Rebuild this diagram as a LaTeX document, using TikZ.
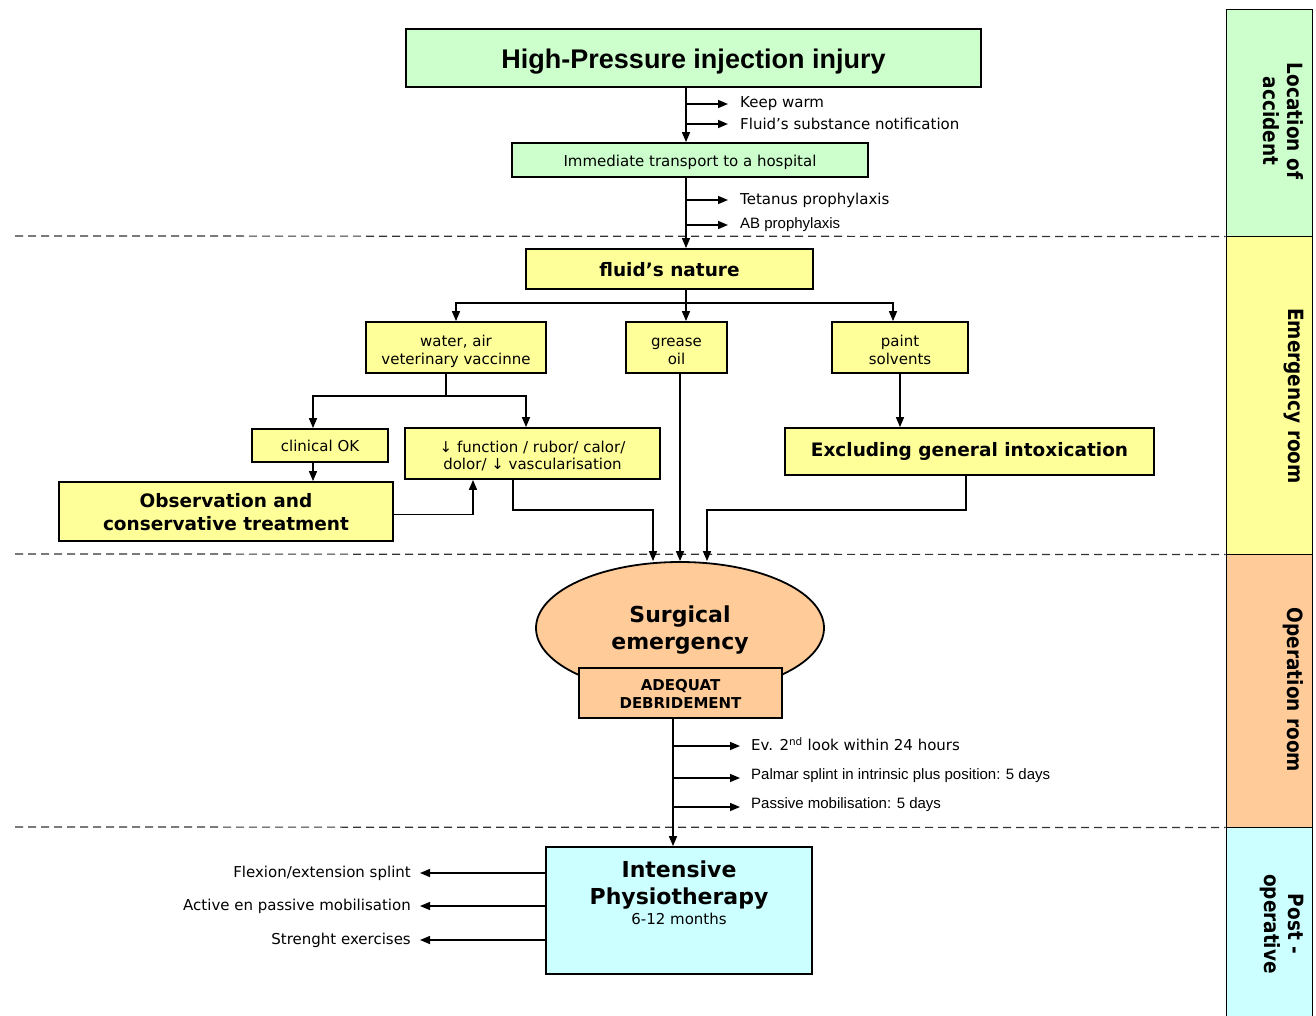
\documentclass[tikz,border=0pt]{standalone}
\usepackage{fontspec}
\setmainfont{DejaVu Sans}
\newfontfamily\arialfont{Liberation Sans}
\newfontfamily\bandfont{DejaVu Sans}[FakeStretch=0.88]
\usetikzlibrary{arrows.meta,shapes.geometric}
\definecolor{cgreen}{HTML}{CCFFCC}
\definecolor{cyellow}{HTML}{FFFF99}
\definecolor{corange}{HTML}{FFCC99}
\definecolor{ccyan}{HTML}{CCFFFF}
\definecolor{dashgray}{HTML}{333333}
% text block lowered by #1 inside its node
\newcommand\boxtxt[2]{\raisebox{-#1}[\height][\depth]{\begin{tabular}{@{}c@{}}#2\end{tabular}}}
\begin{document}
\begin{tikzpicture}[x=1pt,y=-1pt,
  box/.style={draw, line width=1.8pt, align=center, inner sep=0pt},
  ybox/.style={box, fill=cyellow},
  reg/.style={font=\fontsize{15}{17.5}\selectfont},
  bld/.style={font=\bfseries\fontsize{18.5}{23}\selectfont},
  lbl/.style={inner sep=0pt, font=\fontsize{15}{18}\selectfont},
  albl/.style={inner sep=0pt, font=\arialfont\fontsize{15}{18}\selectfont},
  ln/.style={line width=1.5pt},
  arr/.style={ln, -{Triangle[length=10pt,width=8pt]}},
  dline/.style={dashgray, line width=1.2pt, dash pattern=on 8pt off 5pt},
  band/.style={draw, line width=1pt, minimum width=86pt, inner sep=0pt},
  bandtxt/.style={rotate=-90, anchor=north, inner sep=0pt, align=center,
    font=\bandfont\bfseries\fontsize{21}{24}\selectfont}
]
\useasboundingbox (0,0) rectangle (1316,1015);

% side band
\node[band, fill=cgreen, minimum height=227pt] (bandA) at (1269,122.5) {};
\node[band, fill=cyellow, minimum height=318pt] (bandB) at (1269,395) {};
\node[band, fill=corange, minimum height=273pt] (bandC) at (1269,690.5) {};
\node[band, fill=ccyan, minimum height=200pt] (bandD) at (1269,927) {};
\node[bandtxt] (tA) at (1304,121) {Location of\\accident};
\node[bandtxt] (tB) at (1304,396) {Emergency room};
\node[bandtxt] (tC) at (1304,690) {Operation room};
\node[bandtxt] (tD) at (1304,924) {Post -\\operative};

% dashed separators
\draw[dline] (15,236) -- (bandA.south west);
\draw[dline] (15,554) -- (bandB.south west);
\draw[dline] (15,827) -- (bandC.south west);

% boxes
\node[box, fill=cgreen, minimum width=575pt, minimum height=58pt,
  font=\arialfont\bfseries\fontsize{27}{32}\selectfont] (title) at (693.5,58) {\boxtxt{4.3pt}{High-Pressure injection injury}};
\node[box, fill=cgreen, reg, minimum width=356pt, minimum height=34pt] (trans) at (690,160) {\boxtxt{3pt}{Immediate transport to a hospital}};
\node[ybox, bld, minimum width=287pt, minimum height=40pt] (fluid) at (669.5,269) {\boxtxt{2.4pt}{fluid’s nature}};
\node[ybox, reg, minimum width=180pt, minimum height=51pt] (water) at (456,347.5) {\boxtxt{4.5pt}{water, air\\veterinary vaccinne}};
\node[ybox, reg, minimum width=101pt, minimum height=51pt] (grease) at (676.5,347.5) {\boxtxt{4.5pt}{grease\\oil}};
\node[ybox, reg, minimum width=136pt, minimum height=51pt] (paint) at (900,347.5) {\boxtxt{4.5pt}{paint\\solvents}};
\node[ybox, reg, minimum width=136pt, minimum height=33pt] (clin) at (320,445.5) {\boxtxt{2.5pt}{clinical OK}};
\node[ybox, reg, minimum width=255pt, minimum height=51pt] (func) at (532.5,453.5) {\boxtxt{4pt}{↓ function / rubor/ calor/\\dolor/ ↓ vascularisation}};
\node[ybox, bld, minimum width=334pt, minimum height=59pt] (obs) at (226,511.5) {\boxtxt{3pt}{Observation and\\conservative treatment}};
\node[ybox, bld, minimum width=369pt, minimum height=47pt] (excl) at (969.5,451.5) {\boxtxt{0pt}{Excluding general intoxication}};
\node[draw, ellipse, line width=1.8pt, fill=corange, minimum width=288pt, minimum height=132pt, inner sep=0pt,
  align=center, font=\bfseries\fontsize{22}{27}\selectfont] (surg) at (680,628) {\boxtxt{3pt}{Surgical\\emergency}};
\node[box, fill=corange, minimum width=203pt, minimum height=50pt,
  font=\bfseries\fontsize{15}{18}\selectfont] (adeq) at (680.5,693) {\boxtxt{3pt}{ADEQUAT\\DEBRIDEMENT}};
\node[box, fill=ccyan, minimum width=266pt, minimum height=127pt] (intens) at (679,910.5) {};
\node[inner sep=0pt, align=center, font=\bfseries\fontsize{22}{27}\selectfont] (intT) at (679,884) {\boxtxt{2pt}{Intensive\\Physiotherapy}};
\node[inner sep=0pt, font=\fontsize{15}{18}\selectfont] (intS) at (679,919) {6-12 months};

% top trunk
\coordinate (xa) at (686,0);
\draw[arr] (title.south -| xa) -- (trans.north -| xa);
\node[lbl, anchor=west] (kw) at (740,104) {Keep warm};
\node[lbl, anchor=west] (fs) at (740,124) {Fluid’s substance notification};
\draw[arr] (kw.west -| xa) -- ([xshift=-12pt]kw.west);
\draw[arr] (fs.west -| xa) -- ([xshift=-12pt]fs.west);

\draw[arr] (trans.south -| xa) -- (fluid.north -| xa);
\node[lbl, anchor=west] (tp) at (740,200) {Tetanus prophylaxis};
\node[albl, anchor=west] (ab) at (740,225) {AB prophylaxis};
\draw[arr] (tp.west -| xa) -- ([xshift=-12pt]tp.west);
\draw[arr] (ab.west -| xa) -- ([xshift=-12pt]ab.west);

% fluid branches
\coordinate (br) at (686,303);
\coordinate (xp) at (893,0);
\draw[ln] (fluid.south -| br) -- (br);
\draw[arr] (br) -- (grease.north -| br);
\draw[arr] (br) -| (water.north);
\draw[arr] (br) -| (paint.north -| xp);

% water branches
\coordinate (wb) at (446,396);
\coordinate (xc) at (313,0);
\coordinate (xf) at (526,0);
\coordinate (xo) at (473,0);
\coordinate (xf2) at (513,0);
\draw[ln] (water.south -| wb) -- (wb);
\draw[arr] (wb) -| (clin.north -| xc);
\draw[arr] (wb) -| (func.north -| xf);
\draw[arr] (clin.south -| xc) -- (obs.north -| xc);
\draw[arr] ([yshift=-3pt]obs.east) -| (func.south -| xo);

% to surgery
\coordinate (xs1) at (653,0);
\coordinate (xs3) at (707,0);
\coordinate (xe) at (966,0);
\draw[arr] (func.south -| xf2) -- ++(0,30) -| (surg.north -| xs1);
\draw[arr] (grease.south -| surg.north) -- (surg.north);
\draw[arr] (paint.south) -- (excl.north -| paint.south);
\draw[arr] (excl.south -| xe) -- ++(0,34) -| (surg.north -| xs3);

% lower trunk
\coordinate (xd) at (673,0);
\draw[arr] (adeq.south -| xd) -- (intens.north -| xd);
\node[lbl, anchor=west] (ev) at (751,744) {Ev. 2\textsuperscript{nd} look within 24 hours};
\node[albl, anchor=west] (pa) at (751,776) {Palmar splint in intrinsic plus position: 5 days};
\node[albl, anchor=west] (pm) at (751,805) {Passive mobilisation: 5 days};
\draw[arr] ([yshift=-2pt]ev.west -| xd) -- ([xshift=-11pt,yshift=-2pt]ev.west);
\draw[arr] ([yshift=-2pt]pa.west -| xd) -- ([xshift=-11pt,yshift=-2pt]pa.west);
\draw[arr] ([yshift=-2pt]pm.west -| xd) -- ([xshift=-11pt,yshift=-2pt]pm.west);

% physiotherapy outputs
\node[lbl, anchor=east] (fl) at (411,873) {Flexion/extension splint};
\node[lbl, anchor=east] (ac) at (411,906) {Active en passive mobilisation};
\node[lbl, anchor=east] (st) at (411,940) {Strenght exercises};
\draw[arr] (intens.west |- fl.east) -- ([xshift=9pt]fl.east);
\draw[arr] (intens.west |- ac.east) -- ([xshift=9pt]ac.east);
\draw[arr] (intens.west |- st.east) -- ([xshift=9pt]st.east);
\end{tikzpicture}
\end{document}
